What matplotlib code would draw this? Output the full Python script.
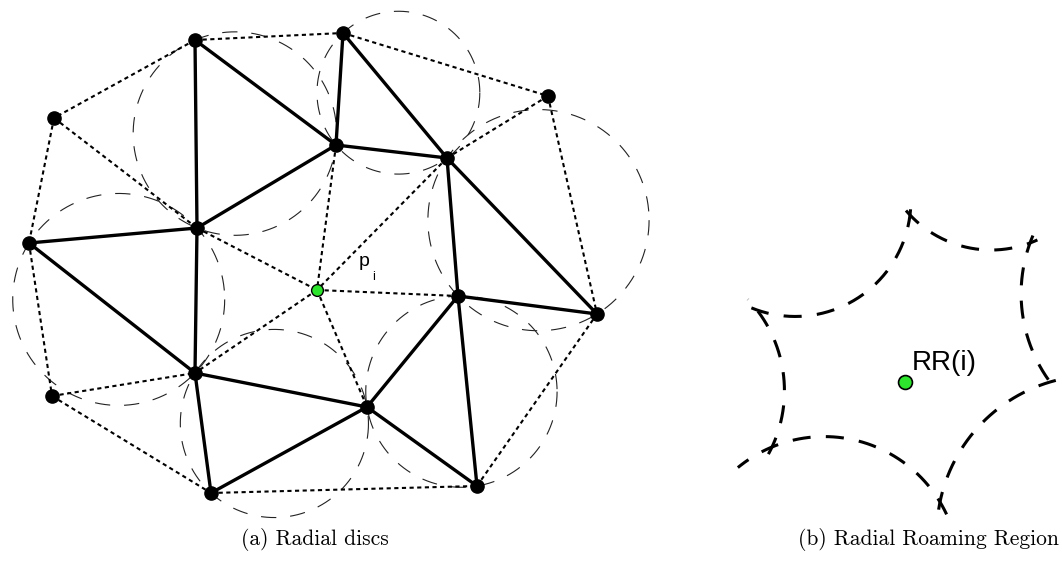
import numpy as np
import matplotlib
matplotlib.use("Agg")
import matplotlib.pyplot as plt

plt.rcParams["lines.scale_dashes"] = False

# ============================================================
# 数据 (像素坐标, y 向下)
# ============================================================
# (a) 三角网节点
node_x = [195, 343, 548, 54, 336, 447, 197, 29, 317, 458, 597, 195, 52, 367, 211, 477]
node_y = [40, 33, 96, 118, 145, 158, 228, 243, 290, 296, 314, 373, 396, 407, 493, 486]
center_node = 8  # p_i

solid_edges = [(0, 6), (0, 4), (1, 4), (1, 5), (4, 6), (4, 5), (6, 7), (7, 11),
               (6, 11), (5, 9), (5, 10), (9, 10), (9, 13), (11, 13), (11, 14),
               (13, 14), (13, 15), (9, 15)]
dotted_edges = [(0, 1), (0, 3), (3, 7), (3, 6), (1, 2), (2, 5), (2, 10), (6, 8),
                (4, 8), (5, 8), (8, 9), (8, 11), (8, 13), (7, 12), (12, 11),
                (12, 14), (14, 15), (15, 10)]
# 画外接圆的三角形 (径向圆盘)
disc_triangles = [(0, 4, 6), (1, 4, 5), (6, 7, 11), (5, 9, 10), (11, 13, 14), (9, 13, 15)]

# (b) 径向漫游区域: 尖点与每段弧的中间点
cusp_x = [910, 1030, 1050, 940, 772, 757]
cusp_y = [215, 243, 382, 502, 447, 310]
mid_x = [970, 1022, 982, 862, 784, 865]
mid_y = [248, 310, 423, 442, 380, 293]
ext_start = [6, 8, 6, 14, 8, 6]    # 弧在起点外延长的像素
ext_end = [8, 6, 14, 40, 14, 10]
rr_point = (905, 382)

caption_a = "(a) Radial discs"
caption_b = "(b) Radial Roaming Region"


def circumcircle(p1, p2, p3):
    (ax_, ay), (bx, by), (cx, cy) = p1, p2, p3
    d = 2 * (ax_ * (by - cy) + bx * (cy - ay) + cx * (ay - by))
    ux = ((ax_**2 + ay**2) * (by - cy) + (bx**2 + by**2) * (cy - ay) + (cx**2 + cy**2) * (ay - by)) / d
    uy = ((ax_**2 + ay**2) * (cx - bx) + (bx**2 + by**2) * (ax_ - cx) + (cx**2 + cy**2) * (bx - ax_)) / d
    r = np.hypot(ax_ - ux, ay - uy)
    return ux, uy, r


fig = plt.figure(figsize=(10.62, 5.71), dpi=100)
ax = fig.add_axes([0, 0, 1, 1])
ax.set_xlim(0, 1062)
ax.set_ylim(571, 0)
ax.set_aspect("equal")
ax.axis("off")

pts = list(zip(node_x, node_y))

# 虚线圆
t = np.linspace(0, 2 * np.pi, 400)
for a, b, c in disc_triangles:
    ux, uy, r = circumcircle(pts[a], pts[b], pts[c])
    ax.plot(ux + r * np.cos(t), uy + r * np.sin(t), color="#222222", lw=0.8,
            linestyle=(0, (11, 10)), zorder=1)

for a, b in dotted_edges:
    ax.plot([node_x[a], node_x[b]], [node_y[a], node_y[b]], color="black",
            lw=1.5, linestyle=(0, (3, 2.5)), zorder=2)

for a, b in solid_edges:
    ax.plot([node_x[a], node_x[b]], [node_y[a], node_y[b]], color="black",
            lw=2.4, solid_capstyle="round", zorder=3)

others = [i for i in range(len(node_x)) if i != center_node]
ax.plot([node_x[i] for i in others], [node_y[i] for i in others], "o",
        color="black", markersize=9.5, zorder=4)
ax.plot(node_x[center_node], node_y[center_node], "o", markerfacecolor="#2ee52e",
        markeredgecolor="black", markeredgewidth=1.0, markersize=8.5, zorder=5)
ax.text(node_x[center_node] + 42, node_y[center_node] - 24, "p", fontsize=14,
        family="Liberation Sans", ha="left", va="baseline")
ax.text(node_x[center_node] + 55, node_y[center_node] - 10, "i", fontsize=9,
        family="Liberation Sans", ha="left", va="baseline")

# (b) 漫游区域的弧
n = len(cusp_x)
for i in range(n):
    p1 = (cusp_x[i], cusp_y[i])
    p2 = (mid_x[i], mid_y[i])
    j = (i + 1) % n
    p3 = (cusp_x[j], cusp_y[j])
    ux, uy, r = circumcircle(p1, p2, p3)
    a1 = np.arctan2(p1[1] - uy, p1[0] - ux)
    a2 = np.arctan2(p2[1] - uy, p2[0] - ux)
    a3 = np.arctan2(p3[1] - uy, p3[0] - ux)
    # 选择经过中点的方向
    d12 = (a2 - a1) % (2 * np.pi)
    d13 = (a3 - a1) % (2 * np.pi)
    if d12 < d13:
        start, span = a1, d13
    else:
        start, span = a1, -((a1 - a3) % (2 * np.pi))
    sgn = np.sign(span)
    s0 = start - sgn * ext_start[i] / r
    s1 = start + span + sgn * ext_end[i] / r
    tt = np.linspace(s0, s1, 200)
    ax.plot(ux + r * np.cos(tt), uy + r * np.sin(tt), color="black", lw=2.2,
            linestyle=(0, (13, 11)), solid_capstyle="butt", zorder=2)

ax.plot(*rr_point, "o", markerfacecolor="#2ee52e", markeredgecolor="black",
        markeredgewidth=1.2, markersize=10, zorder=5)
ax.text(rr_point[0] + 7, rr_point[1] - 12, "RR(i)", fontsize=20,
        family="Liberation Sans", ha="left", va="baseline")

# 标题
ax.text(315, 545, caption_a, fontsize=15.5, family="cmr10", ha="center", va="baseline")
ax.text(929, 545, caption_b, fontsize=15.5, family="cmr10", ha="center", va="baseline")

plt.savefig("out.png", dpi=100)
